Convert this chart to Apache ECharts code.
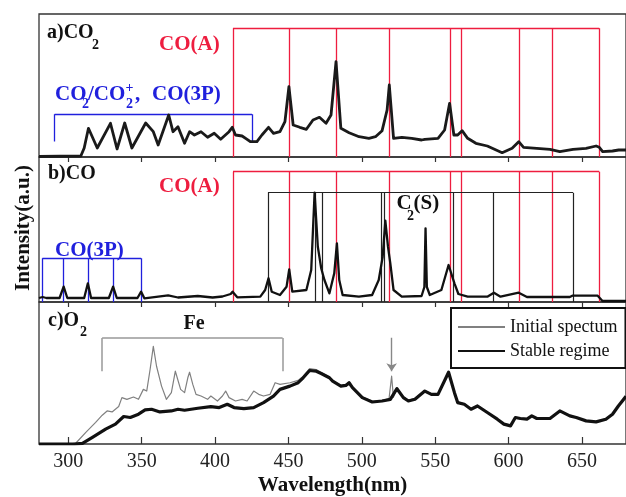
<!DOCTYPE html>
<html><head><meta charset="utf-8">
<script src="https://cdn.jsdelivr.net/npm/echarts@6/dist/echarts.min.js"></script>
<style>html,body{margin:0;padding:0;background:#fff}#c{width:626px;height:497px}</style>
</head><body><div id="c"></div>
<script>
// ---- tick labels ----
const xTicks = [300, 350, 400, 450, 500, 550, 600, 650];

// ---- a) CO2 spectrum ----
const co2Wl = [280,308.5,310.8,313.7,319.7,328.7,333.2,338.4,343.3,352.7,357.9,361.2,368.4,371.3,374.7,379.2,382.6,385.9,390.4,394.9,399.4,403.8,409.5,411.7,413.9,418.4,421.8,424,428.5,431.9,436.4,439.8,444.2,447.6,450.3,453.2,457.7,462.2,466.7,471.1,475.6,479,482.4,485.7,491.3,498.1,504.8,509.3,513.8,517.2,518.7,521.6,527.3,534,540.7,542.9,551.9,556.4,559.8,562.7,565.3,568.3,572.1,577.7,585.5,595.6,602.4,606.9,610.2,619.2,628.2,634.9,643.9,652.8,659.6,661.8,664.1,670.8,675,680];
const co2Val = [0.5,1,9,28.7,9,33.7,8,34,9,34,25.3,12,42,25.3,30.3,13.7,25.3,22,25.3,19.7,23.7,17.7,25.3,29.7,22,21,17.7,15.3,15.3,22,29.7,23.7,25.3,35.3,70.3,32,29.7,27.7,37,39.7,33.7,42,95.3,28.7,24.3,20.3,18.7,20.3,26.3,47,72,18.7,19.7,18.7,17,17.7,18.7,27,53.7,22,22,26.3,18.7,13.7,11,4.3,8.7,15.3,9.7,8.7,7.7,5.3,7.7,8.7,11,9.7,5.3,6,7,7];

// ---- b) CO spectrum ----
const coWl = [280,282.5,285,294,296.8,299.3,310.8,313.3,315.5,327.6,330.5,333,347.1,349.6,351.8,368,374.7,388.2,398.3,405,410.6,411.9,415.1,430.8,434.1,436.4,438.6,444.2,448.7,450.5,452.6,462.2,465.5,467.8,470,472.3,474.5,477.9,481.2,483,484.6,486.9,498,507,511.5,514.2,516,517.8,519.4,521.6,527.2,540.7,542.6,543.4,544.3,546.3,554.2,559.1,563.1,565.8,572.1,585.5,590,594.5,606.9,612.5,641.7,643.4,660.7,664,680];
const coVal = [4,5,4,4,15.3,4,4,18.7,4,4,15.3,4,4,10.3,3.7,6.7,4.5,6,4.5,5.5,8,10.3,4.7,5.3,12,23.7,10.3,7,15.3,32.7,10.3,12,32,109.3,55.3,33.7,22,8.7,28.7,58.7,22,7,5.3,7,22,45.3,81.3,55.3,38.7,12,5.3,6,15,73.7,15,7,12,37,18.7,8,5.3,5.3,9.3,5.3,9.3,5,5,6.3,6.3,1,1];

// ---- c) O2 spectra ----
const stableWl = [280,304,309.6,316.4,325.4,332.1,337.7,342.2,347.8,352.3,356.7,362.4,370.2,374.7,379.2,388.2,397.1,402.8,408.3,412.9,419.6,426.3,433,439.8,444.2,451,456.6,460,464.4,468.9,472.3,477.9,480.1,485.7,489.1,491.3,493.6,500.3,507.1,513.8,519.4,523.9,528.3,531.7,536.2,542.9,547.4,551.9,559.1,563.1,565.3,569.8,574.4,578.8,585.5,592.3,596.8,601.3,604.6,608,612.5,615.8,619.2,628.2,634.9,641.7,646.1,652.8,659.6,666.3,670.8,674.8,680];
const stableVal = [0,0,0.7,6.7,15,20,27.7,26.7,30,34.3,35,32.3,33.3,35,34,36,37.7,36.7,40,36.7,35.7,36.7,41.7,48.3,55,58.3,61.7,66.7,74,73.3,71,66.7,63.3,58.3,59,61.7,56.7,46.7,42.3,43.3,45,55.7,46.7,43.3,45,53.3,50,50,72.3,51.7,41.7,40,35,38.3,31.7,25,20,18.3,26.7,25.7,25,28.3,25.7,25.7,33.3,28.3,26.7,23.3,22.3,25,30,38.3,48];
const initWl = [280,300.7,305.2,311.9,318.6,323.1,326.4,329.8,334.3,336.5,339.9,344.4,347.8,351.1,353.4,355.7,357.9,360.1,363.5,366.8,370.2,372.9,374.2,376.5,379.2,381.4,382.6,384.8,387,390.4,394.9,397.1,401.6,405,407.2,409.5,413.9,418.4,421.8,426.3,429.7,433,437.5,440.9,444.2,451,456.6,460,464.4,468.9,472.3,477.9,480.1,485.7,489.1,491.3,493.6,500.3,507.1,513.8,518.5,520.3,521.5,523.9,528.3,531.7,536.2,542.9,547.4,551.9,559.1,563.1,565.3,569.8,574.4,578.8,585.5,592.3,596.8,601.3,604.6,608,612.5,615.8,619.2,628.2,634.9,641.7,646.1,652.8,659.6,666.3,670.8,674.8,680];
const initVal = [0,0,1,11.7,21.7,29,33.3,32.3,37.7,46.7,45,47.3,45,55,53.3,75,98.3,78.3,58.3,45,51.7,73.3,75,55,51.7,66.7,72.3,60,50,48.3,45,48.3,43.3,48.3,53.3,46.7,43.3,45,43.3,53.3,50,48.3,50,61.7,60,61.7,64,68.3,76,75,72,67.5,64,59,60,62.5,57.5,47.5,43,44,45.5,68.3,47,56.5,47.5,44,46,54,50.5,50.5,73,52.5,42.5,40.5,35.5,39,32,25.5,20.5,19,27,26,25.5,28.5,26,26,33.5,28.5,27,23.5,22.5,25.5,30.5,38.5,48.5];

// ---- band assignments (nm) ----
const coABands = [412.2, 450.3, 482.4, 518.9, 560, 568, 607.3, 630, 661.8];
const co2IonRange = [290.6, 425.2];
const co3PBands = [282.3, 296.8, 313.3, 330.5, 349.6];
const c2SwanBands = [436, 468.4, 473, 513.3, 515.6, 562.6, 589.6, 643.9];
const feRange = [323, 446];
const arrowWl = 520.3;

const legendNames = ['Initial spectum', 'Stable regime'];

// ---------------------------------------------------------------
const FONT = '"Liberation Serif", "Times New Roman", serif';
const RED = '#ee1d3f', BLUE = '#2020dd';
const pairs = (xs, ys) => xs.map((x, i) => [x, ys[i]]);
function bracket(wls, top, bottom) {
  const segs = [{ coords: [[wls[0], top], [wls[wls.length - 1], top]] }];
  wls.forEach(w => segs.push({ coords: [[w, top], [w, bottom]] }));
  return segs;
}
function linesSeries(gi, data, color, width, extra) {
  return Object.assign({
    type: 'lines', coordinateSystem: 'cartesian2d', xAxisIndex: gi, yAxisIndex: gi,
    data, silent: true, z: 2,
    lineStyle: { color, width, opacity: 1, curveness: 0 }
  }, extra || {});
}
function curve(gi, name, data, color, width, z) {
  return { type: 'line', name, xAxisIndex: gi, yAxisIndex: gi, data, symbol: 'none',
    lineStyle: { color, width, join: 'round' }, itemStyle: { color }, z: z || 3, silent: true, animation: false };
}
function txt(x, y, text, size, color, opts) {
  opts = opts || {};
  return { type: 'text', x, y, rotation: opts.rotation || 0, silent: true, z: 100,
    style: { text, font: `${opts.normal ? '' : 'bold '}${size}px ${FONT}`, fill: color,
      align: opts.align || 'left', verticalAlign: 'middle' } };
}

const heights = [143, 145, 143];
const tops = [14, 157, 302];
const grid = heights.map((h, i) => ({ left: 39, top: tops[i], width: 594, height: h,
  show: true, borderColor: '#333', borderWidth: 1.3, backgroundColor: 'transparent' }));

const xAxis = [0, 1, 2].map(i => ({
  gridIndex: i, type: 'value', min: 280, max: 680,
  axisLine: { show: false }, splitLine: { show: false },
  axisTick: { show: true, inside: i === 2, length: i === 2 ? 7 : 5, customValues: xTicks,
    lineStyle: { color: '#333', width: 1.2 } },
  axisLabel: { show: i === 2, customValues: xTicks, fontFamily: FONT, fontSize: 20, color: '#222', margin: 8 },
  name: i === 2 ? 'Wavelength(nm)' : '', nameLocation: 'middle', nameGap: 31,
  nameTextStyle: { fontFamily: FONT, fontSize: 21, fontWeight: 'bold', color: '#111' }
}));
const yAxis = heights.map((h, i) => ({ gridIndex: i, type: 'value', min: 0, max: h, show: false }));

const series = [
  // panel a annotations
  linesSeries(0, bracket(coABands, 128.7, 0), RED, 1.3),
  linesSeries(0, bracket(co2IonRange, 42.7, 15.5), BLUE, 1.3),
  // panel b annotations
  linesSeries(1, bracket(coABands, 130.3, 0), RED, 1.3),
  linesSeries(1, bracket(c2SwanBands, 109.3, 0), '#222', 1.2),
  linesSeries(1, bracket(co3PBands, 43.7, 0), BLUE, 1.3),
  // panel c annotations
  linesSeries(2, bracket(feRange, 106.7, 73.3), '#999', 1.5),
  linesSeries(2, [{ coords: [[arrowWl, 107], [arrowWl, 73.3]] }], '#888', 1.4,
    { symbol: ['none', 'arrow'], symbolSize: 8 }),
  // curves
  curve(0, 'CO2', pairs(co2Wl, co2Val), '#1a1a1a', 2.8),
  curve(1, 'CO', pairs(coWl, coVal), '#111', 2.3),
  curve(2, legendNames[0], pairs(initWl, initVal), '#808080', 1.2, 3),
  curve(2, legendNames[1], pairs(stableWl, stableVal), '#111', 3.2, 4)
];

const graphic = [
  txt(47, 33, 'a)CO', 20, '#111'), txt(92, 45, '2', 14, '#111'),
  txt(159, 45, 'CO(A)', 21, RED),
  txt(55, 95, 'CO', 21, BLUE), txt(82, 104, '2', 14, BLUE),
  txt(88, 95, '/CO', 21, BLUE), txt(126, 104, '2', 14, BLUE), txt(125.5, 88, '+', 14, BLUE),
  txt(135, 95, ',', 21, BLUE), txt(152, 95, 'CO(3P)', 21, BLUE),
  txt(48, 173.5, 'b)CO', 20, '#111'),
  txt(159, 187, 'CO(A)', 21, RED),
  txt(396.5, 204, 'C', 21, '#111'), txt(407, 216, '2', 14, '#111'), txt(413.5, 204, '(S)', 21, '#111'),
  txt(55, 251, 'CO(3P)', 21, BLUE),
  txt(48, 321, 'c)O', 20, '#111'), txt(80, 332, '2', 14, '#111'),
  txt(183.5, 324, 'Fe', 20, '#111'),
  txt(24, 228, 'Intensity(a.u.)', 21, '#111', { rotation: Math.PI / 2, align: 'center' })
];

const chart = echarts.init(document.getElementById('c'), null, { renderer: 'canvas' });
chart.setOption({
  animation: false,
  backgroundColor: '#fff',
  grid, xAxis, yAxis, series, graphic,
  legend: {
    data: legendNames, orient: 'vertical', left: 451, top: 308,
    padding: [10, 8, 8, 6], itemGap: 6, itemWidth: 47, itemHeight: 14,
    borderColor: '#111', borderWidth: 2, backgroundColor: '#fff',
    itemStyle: { color: 'rgba(0,0,0,0)', borderColor: 'rgba(0,0,0,0)', borderWidth: 0 },
    textStyle: { fontFamily: FONT, fontSize: 18, color: '#111' },
    selectedMode: false
  }
});
</script></body></html>
